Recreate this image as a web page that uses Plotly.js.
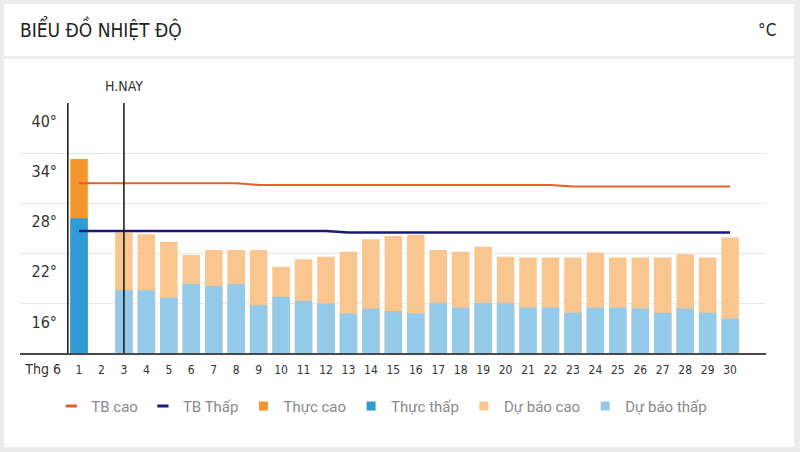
<!DOCTYPE html>
<html>
<head>
<meta charset="utf-8">
<script src="https://cdn.plot.ly/plotly-3.0.1.min.js"></script>
<style>
  html, body { margin: 0; padding: 0; background: #ececec; width: 800px; height: 452px; overflow: hidden; }
  #head { position: absolute; left: 4px; top: 4px; width: 790px; height: 52px; background: #fff; }
  #card { position: absolute; left: 4px; top: 59px; width: 790px; height: 388px; background: #fff; }
  #chart { position: absolute; left: 0; top: 0; width: 800px; height: 452px; }
</style>
</head>
<body>
<div id="head"></div>
<div id="card"></div>
<div id="chart"></div>
<script>
// ---- data ----
const chartTitle = 'BIỂU ĐỒ NHIỆT ĐỘ';
const unitLabel = '°C';
const todayLabel = 'H.NAY';
const monthLabel = 'Thg 6';
const todayDay = 3;
const firstDay = 1;

const days = [1,2,3,4,5,6,7,8,9,10,11,12,13,14,15,16,17,18,19,20,21,22,23,24,25,26,27,28,29,30];
const dayLabels = ['1','2','3','4','5','6','7','8','9','10','11','12','13','14','15','16','17','18','19','20','21','22','23','24','25','26','27','28','29','30'];

const avgHigh = [32.6,32.6,32.6,32.6,32.6,32.6,32.6,32.6,32.4,32.4,32.4,32.4,32.4,32.4,32.4,32.4,32.4,32.4,32.4,32.4,32.4,32.4,32.2,32.2,32.2,32.2,32.2,32.2,32.2,32.2];
const avgLow  = [26.9,26.9,26.9,26.9,26.9,26.9,26.9,26.9,26.9,26.9,26.9,26.9,26.7,26.7,26.7,26.7,26.7,26.7,26.7,26.7,26.7,26.7,26.7,26.7,26.7,26.7,26.7,26.7,26.7,26.7];

const actualDays = [1];
const actualHigh = [35.5];
const actualLow  = [28.4];

const forecastDays = [3,4,5,6,7,8,9,10,11,12,13,14,15,16,17,18,19,20,21,22,23,24,25,26,27,28,29,30];
const forecastHigh = [26.7,26.5,25.6,24.0,24.6,24.6,24.6,22.6,23.5,23.8,24.4,25.9,26.3,26.4,24.6,24.4,25.0,23.8,23.7,23.7,23.7,24.3,23.7,23.7,23.7,24.1,23.7,26.1];
const forecastLow  = [19.8,19.8,18.9,20.5,20.3,20.5,18.0,19.0,18.5,18.2,17.0,17.6,17.3,17.0,18.3,17.7,18.3,18.3,17.7,17.7,17.1,17.7,17.7,17.6,17.1,17.6,17.1,16.4];

const yTickVals = [16,22,28,34,40];
const yTickText = ['16°','22°','28°','34°','40°'];

const seriesNames = ['TB cao','TB Thấp','Thực cao','Thực thấp','Dự báo cao','Dự báo thấp'];
const seriesColors = ['#e0622b','#1b1a76','#f5962f','#2f9cd6','#f8c68e','#93c9e9'];
const seriesSymbols = ['line-ew','line-ew','square','square','square','square'];

// ---- styling ----
const narrow = '"Liberation Sans Narrow", "DejaVu Sans Condensed", Roboto, sans-serif';
const legendFont = 'Roboto, "Noto Sans", sans-serif';
const yRange = [12.28, 42.21];
const gridVals = yTickVals.map(v => v + 2.2);

const traces = [
  { type: 'bar', x: actualDays, y: actualHigh, name: seriesNames[2], marker: { color: seriesColors[2] }, showlegend: false, hoverinfo: 'skip' },
  { type: 'bar', x: actualDays, y: actualLow, name: seriesNames[3], marker: { color: seriesColors[3] }, showlegend: false, hoverinfo: 'skip' },
  { type: 'bar', x: forecastDays, y: forecastHigh, name: seriesNames[4], marker: { color: seriesColors[4] }, showlegend: false, hoverinfo: 'skip' },
  { type: 'bar', x: forecastDays, y: forecastLow, name: seriesNames[5], marker: { color: seriesColors[5] }, showlegend: false, hoverinfo: 'skip' },
  { type: 'scatter', mode: 'lines', x: days, y: avgHigh, yaxis: 'y2', name: seriesNames[0], line: { color: seriesColors[0], width: 2 }, showlegend: false, hoverinfo: 'skip' },
  { type: 'scatter', mode: 'lines', x: days, y: avgLow, yaxis: 'y2', name: seriesNames[1], line: { color: seriesColors[1], width: 2.5 }, showlegend: false, hoverinfo: 'skip' }
];
// legend entries
seriesNames.forEach((n, i) => {
  const isSq = seriesSymbols[i] === 'square';
  traces.push({
    type: 'scatter', mode: 'markers', x: [null], y: [null], name: n, showlegend: true, hoverinfo: 'skip',
    marker: { symbol: seriesSymbols[i], size: isSq ? 9 : 8, color: seriesColors[i],
              line: { color: seriesColors[i], width: isSq ? 0 : 3 } }
  });
});

const layout = {
  width: 800, height: 452,
  paper_bgcolor: 'rgba(0,0,0,0)', plot_bgcolor: 'rgba(0,0,0,0)',
  margin: { l: 20, r: 34, t: 103, b: 99, pad: 0 },
  barmode: 'overlay', bargap: 0.22,
  title: { text: chartTitle, x: 20/800, xref: 'container', xanchor: 'left', y: 1 - 30/452, yref: 'container', yanchor: 'middle',
           font: { family: narrow, size: 19, color: '#222' } },
  xaxis: {
    range: [-1.63, 31.6], tickmode: 'array',
    tickvals: [firstDay - 1.6].concat(days),
    ticktext: ['<span style="font-size:14px">' + monthLabel + '</span>'].concat(dayLabels),
    tickfont: { family: narrow, size: 12, color: '#333' },
    ticks: '', showgrid: false, zeroline: false,
    showline: true, linecolor: '#4a4a4a', linewidth: 1.5,
    ticklabelstandoff: 5, fixedrange: true
  },
  yaxis: {
    range: yRange, tickmode: 'array', tickvals: gridVals, showticklabels: false,
    showgrid: true, gridcolor: '#e8e8e8', gridwidth: 1, zeroline: false, showline: false, ticks: '', fixedrange: true
  },
  yaxis2: {
    range: yRange, overlaying: 'y', side: 'left', anchor: 'free', position: 37 / 746,
    tickmode: 'array', tickvals: yTickVals, ticktext: yTickText,
    tickfont: { family: narrow, size: 16, color: '#333' },
    showgrid: false, zeroline: false, showline: false, ticks: '', fixedrange: true
  },
  shapes: [
    { type: 'line', xref: 'x', yref: 'paper', x0: firstDay - 0.5, x1: firstDay - 0.5, y0: 0, y1: 1, line: { color: '#111', width: 1.5 }, layer: 'above' },
    { type: 'line', xref: 'x', yref: 'paper', x0: todayDay, x1: todayDay, y0: 0, y1: 1, line: { color: '#111', width: 1.5 }, layer: 'above' }
  ],
  annotations: [
    { text: todayLabel, xref: 'x', yref: 'paper', x: todayDay, y: 1, yanchor: 'bottom', xanchor: 'center', yshift: 7,
      showarrow: false, font: { family: narrow, size: 14, color: '#333' } },
    { text: unitLabel, xref: 'paper', yref: 'paper', x: 1.016, xanchor: 'right', y: (352.7 - 30) / 249.7, yanchor: 'middle',
      showarrow: false, font: { family: narrow, size: 17, color: '#222' } }
  ],
  legend: {
    orientation: 'h', x: 0.485, xanchor: 'center', y: -0.213, yanchor: 'middle',
    font: { family: legendFont, size: 15, color: '#8a8a8a' }, itemclick: false, itemdoubleclick: false,
    bgcolor: 'rgba(0,0,0,0)'
  },
  showlegend: true
};

Plotly.newPlot('chart', traces, layout, { displayModeBar: false, staticPlot: true });
</script>
</body>
</html>
